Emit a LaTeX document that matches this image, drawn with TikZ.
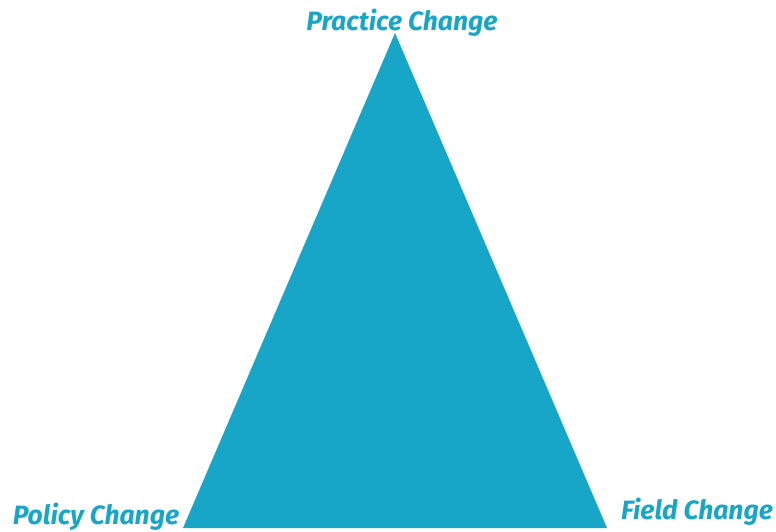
\documentclass[tikz,border=0pt]{standalone}
\usepackage{fontspec}
\setsansfont{Fira Sans}
\definecolor{teal1}{HTML}{17A5C8}
\tikzset{
  corner/.style={text=teal1,font=\sffamily\bfseries\itshape\fontsize{26.5}{30}\selectfont,inner sep=0pt,anchor=base}
}
\begin{document}
\begin{tikzpicture}[x=1pt,y=1pt]
 \useasboundingbox (0,0) rectangle (776,531);
 \coordinate (apex) at (395,498);
 \coordinate (left) at (183,3);
 \coordinate (right) at (607,3);
 \fill[teal1](apex)--(right)--(left)--cycle;
 \node[corner] (practice) at (402,500) {Practice Change};
 \node[corner] (policy) at (96,7) {Policy Change};
 \node[corner] (field) at (697,12) {Field Change};
\end{tikzpicture}
\end{document}
